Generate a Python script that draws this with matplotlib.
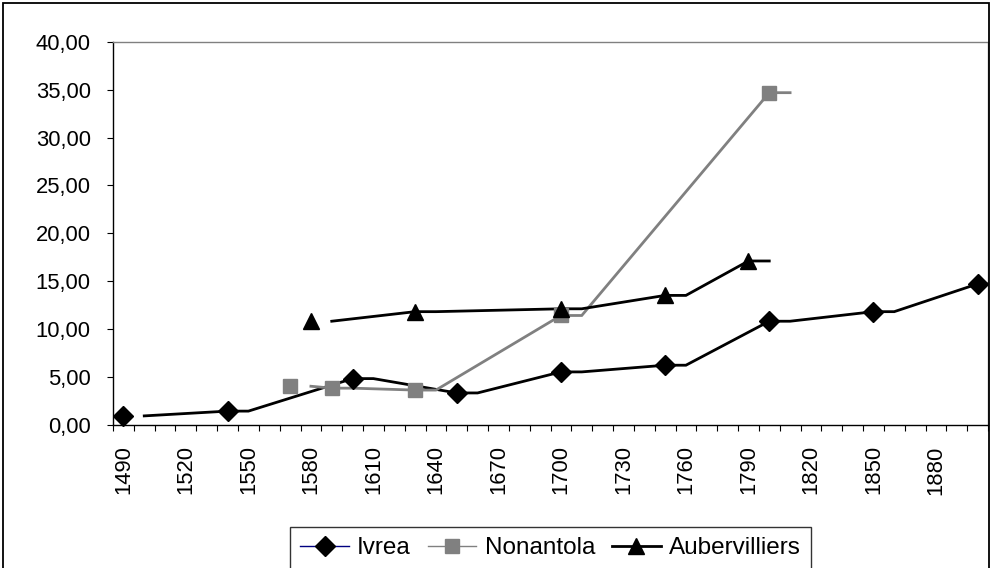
import matplotlib
matplotlib.use("Agg")
import matplotlib.pyplot as plt
from matplotlib.lines import Line2D
from matplotlib.patches import Rectangle

plt.rcParams['font.family'] = ['Liberation Sans', 'DejaVu Sans']

# Series data (year, value)
ivrea_years = [1490, 1540, 1600, 1650, 1700, 1750, 1800, 1850, 1900]
ivrea_vals = [0.9, 1.4, 4.8, 3.3, 5.5, 6.2, 10.8, 11.8, 14.7]

nonantola_years = [1570, 1590, 1630, 1700, 1800]
nonantola_vals = [4.0, 3.8, 3.6, 11.4, 34.7]

auber_years = [1580, 1630, 1700, 1750, 1790]
auber_vals = [10.8, 11.8, 12.1, 13.5, 17.1]

categories = list(range(1490, 1901, 10))
label_years = list(range(1490, 1881, 30))
y_ticks = [0, 5, 10, 15, 20, 25, 30, 35, 40]

STEP = 10  # one category = ten years
FS = 15.8
FS_LEG = 17.5


def step_path(xs, ys):
    """Line path: each value is held for one category, then joins the next point."""
    px, py = [xs[0] + STEP], [ys[0]]
    for x, y in zip(xs[1:], ys[1:]):
        px += [x, x + STEP]
        py += [y, y]
    return px, py


W, H = 992, 568
fig = plt.figure(figsize=(W / 100, H / 100), dpi=100)
fig.patch.set_facecolor('white')

left, right, top, bottom = 113, 988, 42, 424.5
ax = fig.add_axes([left / W, 1 - bottom / H, (right - left) / W, (bottom - top) / H])

GRAY = '#808080'
LW = 2.0

series = [
    (ivrea_years, ivrea_vals, 'black', 'D', 'black', 10),
    (nonantola_years, nonantola_vals, GRAY, 's', GRAY, 10.5),
    (auber_years, auber_vals, 'black', '^', 'black', 12),
]
for xs, ys, lc, mk, mc, ms in series:
    px, py = step_path(xs, ys)
    ax.plot(px, py, color=lc, lw=LW, solid_joinstyle='miter', zorder=2)
    ax.plot(xs, ys, ls='none', marker=mk, ms=ms, mfc=mc, mec=mc,
            zorder=3, clip_on=False)

ax.set_xlim(categories[0] - STEP / 2, categories[-1] + STEP / 2)
ax.set_ylim(0, 40)

# category boundaries get tick marks, labels sit at category centres
edges = [c - STEP / 2 for c in categories] + [categories[-1] + STEP / 2]
ax.set_xticks(edges)
ax.set_xticklabels([])
ax.set_xticks(label_years, minor=True)
ax.set_xticklabels([str(y) for y in label_years], minor=True, rotation=90,
                   fontsize=FS)
ax.tick_params(axis='x', which='major', length=4.5, width=0.8, direction='out',
               color='black')
ax.tick_params(axis='x', which='minor', length=0, pad=15)

ax.set_yticks(y_ticks)
ax.set_yticklabels([f"{v:.2f}".replace('.', ',') for v in y_ticks], fontsize=FS)
ax.tick_params(axis='y', length=4.5, width=0.8, direction='out', pad=11.5,
               color='black')

for s in ('left', 'bottom'):
    ax.spines[s].set_color('black')
    ax.spines[s].set_linewidth(1.0)
for s in ('top', 'right'):
    ax.spines[s].set_color(GRAY)
    ax.spines[s].set_linewidth(1.0)

# legend
handles = [
    Line2D([], [], color='#000080', lw=1.0, marker='D', ms=10, mfc='black', mec='black'),
    Line2D([], [], color=GRAY, lw=1.0, marker='s', ms=10.5, mfc=GRAY, mec=GRAY),
    Line2D([], [], color='black', lw=2.0, marker='^', ms=12, mfc='black', mec='black'),
]
leg = fig.legend(handles, ['Ivrea', 'Nonantola', 'Aubervilliers'],
                 loc='upper left', bbox_to_anchor=(290 / W, 1 - 527 / H),
                 ncol=3, frameon=True, fancybox=False, fontsize=FS_LEG,
                 handlelength=2.0, handletextpad=0.34, columnspacing=0.7,
                 borderpad=0.42, borderaxespad=0)
leg.get_frame().set_edgecolor('black')
leg.get_frame().set_linewidth(1.0)

# outer chart frame
fig.add_artist(Rectangle((3 / W, -0.05), (W - 6) / W, 1.05 - 3 / H,
                         transform=fig.transFigure, fill=False,
                         edgecolor='black', lw=1.3))

fig.savefig('out.png', dpi=100, facecolor='white')
